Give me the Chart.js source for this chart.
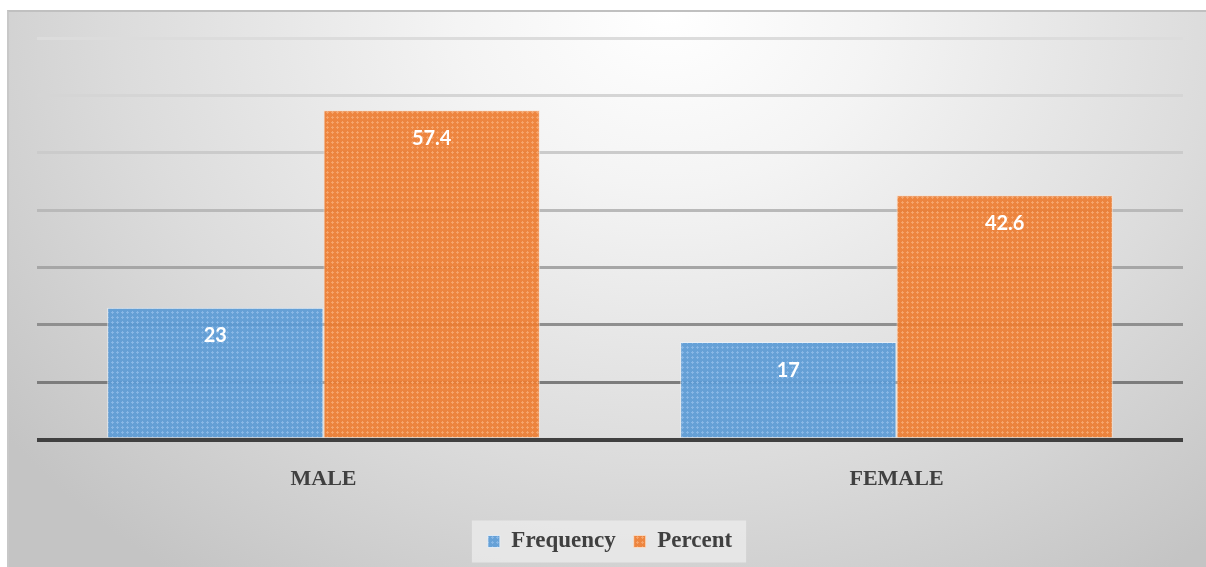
<!DOCTYPE html>
<html>
<head>
<meta charset="utf-8">
<script src="https://cdn.jsdelivr.net/npm/chart.js@4/dist/chart.umd.min.js"></script>
<style>
  html, body { margin: 0; padding: 0; background: #ffffff; }
  #frame {
    position: absolute; left: 7px; top: 10px; width: 1199px; height: 557px;
    box-sizing: border-box;
    border-top: 2px solid #c0c0c0; border-left: 2px solid #c8c8c8;
    background: radial-gradient(ellipse 70% 125% at 55% 0%, #ffffff 0%, #f4f4f4 25%, #dcdcdc 65%, #c4c4c4 100%);
  }
  #wrap { position: absolute; left: 0; top: 0; width: 1206px; height: 567px; }
</style>
</head>
<body>
<div id="frame"></div>
<div id="wrap"><canvas id="chart" width="1206" height="567"></canvas></div>
<script>
// Gender breakdown
const categories = ['MALE', 'FEMALE'];
const frequency = [23, 17];
const percent = [57.4, 42.6];
const seriesNames = ['Frequency', 'Percent'];
const yTicks = [0, 10, 20, 30, 40, 50, 60, 70];

// Grid lines darken toward the baseline
const gridColors = ['#404040', '#7c7c7c', '#8f8f8f', '#a6a6a6', '#b9b9b9', '#cbcbcb', '#d5d5d5', '#dcdcdc'];

// Small dotted fabric texture for the bars
function texture(base, light, alpha) {
  const c = document.createElement('canvas');
  c.width = 5; c.height = 5;
  const g = c.getContext('2d');
  g.globalAlpha = alpha;
  g.fillStyle = base;
  g.fillRect(0, 0, 5, 5);
  g.fillStyle = light;
  g.fillRect(2, 1, 1, 3);
  g.fillRect(1, 2, 3, 1);
  return g.createPattern(c, 'repeat');
}
const ctx = document.getElementById('chart').getContext('2d');
const bluePat = texture('#5b9bd5', '#8ab8e6', 0.93);
const orangePat = texture('#ed7d31', '#f5a66e', 0.93);

// Value labels inside the top of each bar
const valueLabels = {
  id: 'valueLabels',
  afterDatasetsDraw(chart) {
    const c = chart.ctx;
    c.save();
    c.fillStyle = '#ffffff';
    c.font = 'bold 20px Lato, "Open Sans", sans-serif';
    c.textAlign = 'center';
    c.textBaseline = 'middle';
    chart.data.datasets.forEach((ds, di) => {
      chart.getDatasetMeta(di).data.forEach((bar, i) => {
        c.fillText(String(ds.data[i]), bar.x, bar.y + 28);
      });
    });
    c.restore();
  }
};

// Light panel behind the legend
const legendPanel = {
  id: 'legendPanel',
  beforeDraw(chart) {
    const lg = chart.legend;
    if (!lg || !lg.legendHitBoxes || !lg.legendHitBoxes.length) return;
    const boxes = lg.legendHitBoxes;
    const x0 = boxes[0].left - 16;
    const x1 = boxes[boxes.length - 1].left + boxes[boxes.length - 1].width + 14;
    const yc = boxes[0].top + boxes[0].height / 2;
    const c = chart.ctx;
    c.save();
    c.fillStyle = 'rgba(236,236,236,0.75)';
    c.fillRect(x0, yc - 21, x1 - x0, 42);
    c.restore();
  }
};

new Chart(ctx, {
  type: 'bar',
  data: {
    labels: categories,
    datasets: [
      { label: seriesNames[0], data: frequency, backgroundColor: bluePat,
        borderColor: 'rgba(235,242,250,0.8)', borderWidth: 1 },
      { label: seriesNames[1], data: percent, backgroundColor: orangePat,
        borderColor: 'rgba(250,225,205,0.8)', borderWidth: 1 }
    ]
  },
  options: {
    responsive: false,
    animation: false,
    events: [],
    layout: { padding: { left: 37, right: 23, top: 38, bottom: 4 } },
    datasets: { bar: { categoryPercentage: 0.755, barPercentage: 1.0 } },
    scales: {
      x: {
        grid: { display: false },
        border: { display: false },
        ticks: {
          color: '#404040',
          font: { family: '"Times New Roman", "Liberation Serif", serif', weight: 'bold', size: 22 },
          padding: 19
        }
      },
      y: {
        min: yTicks[0], max: yTicks[yTicks.length - 1],
        afterBuildTicks(scale) { scale.ticks = yTicks.map(v => ({ value: v })); },
        ticks: { display: false },
        border: { display: false },
        grid: {
          drawTicks: false,
          color: c => gridColors[c.index] || '#dcdcdc',
          lineWidth: c => (c.index === 0 ? 4 : 3)
        },
        afterFit(scale) { scale.width = 0; }
      }
    },
    plugins: {
      legend: {
        position: 'bottom',
        labels: {
          color: '#404040',
          font: { family: '"Times New Roman", "Liberation Serif", serif', weight: 'bold', size: 23 },
          boxWidth: 12, boxHeight: 12, padding: 18
        }
      },
      tooltip: { enabled: false }
    }
  },
  plugins: [legendPanel, valueLabels]
});
</script>
</body>
</html>
